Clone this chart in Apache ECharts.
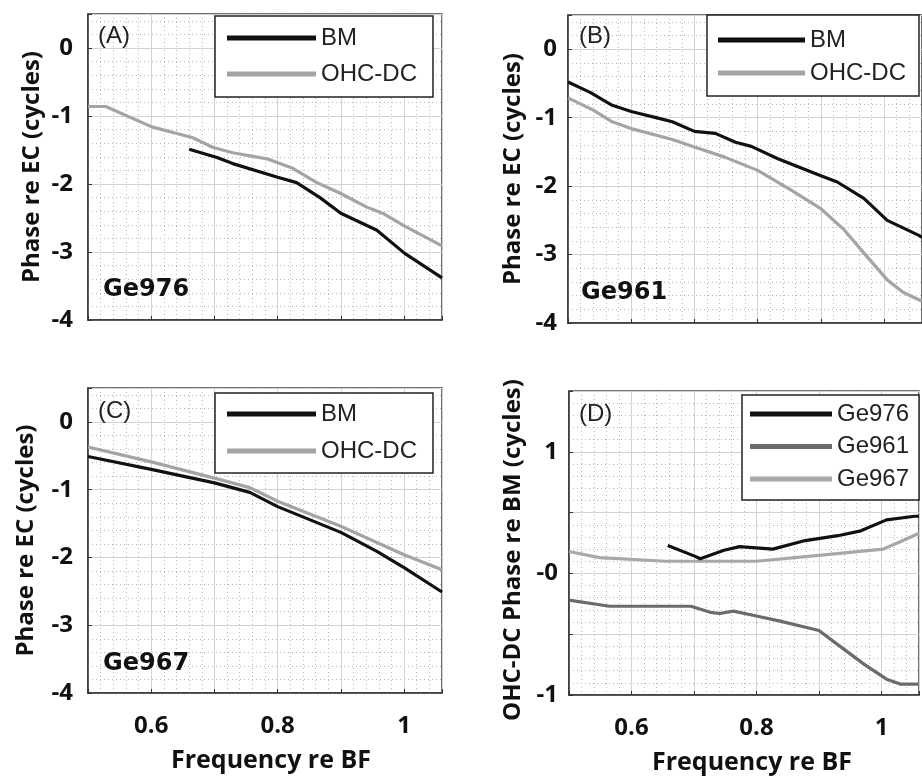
<!DOCTYPE html>
<html>
<head>
<meta charset="utf-8">
<script src="https://cdn.jsdelivr.net/npm/echarts@6/dist/echarts.min.js"></script>
<style>
html,body{margin:0;padding:0;background:#fff;}
#chart{width:922px;height:776px;}
</style>
</head>
<body>
<div id="chart"></div>
<script>
// ---------- data ----------
// Panel A (Ge976)
const aBmX  = [0.66, 0.704, 0.729, 0.80, 0.83, 0.867, 0.90, 0.957, 1.001, 1.06];
const aBmY  = [-1.49, -1.61, -1.70, -1.90, -1.98, -2.20, -2.43, -2.68, -3.02, -3.38];
const aOhcX = [0.50, 0.528, 0.601, 0.666, 0.697, 0.729, 0.783, 0.824, 0.862, 0.90, 0.941, 0.966, 1.001, 1.06];
const aOhcY = [-0.86, -0.86, -1.16, -1.32, -1.46, -1.54, -1.63, -1.77, -1.98, -2.14, -2.34, -2.43, -2.62, -2.91];
// Panel B (Ge961)
const bBmX  = [0.50, 0.535, 0.57, 0.60, 0.644, 0.665, 0.70, 0.733, 0.765, 0.79, 0.832, 0.90, 0.926, 0.968, 1.005, 1.055, 1.06];
const bBmY  = [-0.48, -0.63, -0.82, -0.91, -1.01, -1.06, -1.20, -1.23, -1.36, -1.42, -1.60, -1.85, -1.94, -2.18, -2.50, -2.72, -2.75];
const bOhcX = [0.50, 0.54, 0.57, 0.60, 0.665, 0.70, 0.749, 0.80, 0.853, 0.90, 0.937, 0.973, 1.005, 1.03, 1.055, 1.06];
const bOhcY = [-0.71, -0.89, -1.06, -1.16, -1.32, -1.43, -1.58, -1.77, -2.06, -2.33, -2.64, -3.03, -3.37, -3.55, -3.66, -3.68];
// Panel C (Ge967)
const cBmX  = [0.50, 0.60, 0.70, 0.756, 0.80, 0.90, 0.957, 1.0, 1.06];
const cBmY  = [-0.51, -0.70, -0.90, -1.04, -1.25, -1.63, -1.91, -2.15, -2.51];
const cOhcX = [0.50, 0.60, 0.70, 0.756, 0.80, 0.90, 1.0, 1.06];
const cOhcY = [-0.37, -0.59, -0.83, -0.97, -1.17, -1.54, -1.96, -2.18];
// Panel D (OHC-DC phase re BM)
const dGe976X = [0.658, 0.702, 0.71, 0.748, 0.773, 0.826, 0.878, 0.93, 0.967, 1.008, 1.053, 1.06];
const dGe976Y = [0.23, 0.14, 0.12, 0.19, 0.22, 0.20, 0.27, 0.31, 0.35, 0.44, 0.47, 0.47];
const dGe961X = [0.50, 0.565, 0.695, 0.726, 0.741, 0.763, 0.80, 0.836, 0.90, 0.931, 0.973, 1.008, 1.03, 1.06];
const dGe961Y = [-0.22, -0.27, -0.27, -0.32, -0.33, -0.31, -0.35, -0.39, -0.47, -0.59, -0.75, -0.87, -0.91, -0.91];
const dGe967X = [0.50, 0.549, 0.654, 0.80, 0.904, 1.003, 1.03, 1.06];
const dGe967Y = [0.18, 0.13, 0.10, 0.10, 0.15, 0.20, 0.26, 0.33];

const panelLetters = ['(A)', '(B)', '(C)', '(D)'];
const panelSubjects = ['Ge976', 'Ge961', 'Ge967'];
const xTickLabels = {6: '0.6', 8: '0.8', 10: '1'};

// ---------- helpers ----------
const zip = (xs, ys) => xs.map((x, i) => [x, ys[i]]);
const tickFont = 'Open Sans';
const textFont = 'Liberation Sans';

const grids = [
  {left: 88,  top: 14,  width: 354, height: 306},
  {left: 568, top: 15,  width: 357, height: 308},
  {left: 88,  top: 388, width: 354, height: 305},
  {left: 569, top: 391, width: 357, height: 309}
];

function xAxis(i, showLabels, namePad) {
  return {
    type: 'value', gridIndex: i, min: 0.5, max: 1.06, interval: 0.1,
    name: showLabels ? 'Frequency re BF' : '', nameLocation: 'middle', nameGap: 55,
    nameTextStyle: {fontFamily: tickFont, fontWeight: 'bold', fontSize: 25, color: '#111', padding: namePad || 0},
    axisLine: {show: true, onZero: false, lineStyle: {color: '#333', width: 1.5}},
    axisTick: {show: true, inside: true, length: 4, lineStyle: {color: '#333'}},
    axisLabel: {show: showLabels, margin: 21, fontFamily: tickFont, fontWeight: 'bold', fontSize: 24, color: '#111',
      showMinLabel: true, showMaxLabel: true,
      formatter: v => { const r = Math.round(v * 10); return (Math.abs(v * 10 - r) < 1e-6 && xTickLabels[r]) ? xTickLabels[r] : ''; }},
    splitLine: {show: true, lineStyle: {color: '#d2d2d2', width: 1}},
    minorTick: {show: false, splitNumber: 5},
    minorSplitLine: {show: true, lineStyle: {color: '#b8b8b8', width: 1, type: [1, 3]}}
  };
}

function yAxisPhase(i, margin, gap) {
  return {
    type: 'value', gridIndex: i, min: -4, max: 0.5, interval: 1,
    name: 'Phase re EC (cycles)', nameLocation: 'middle', nameGap: gap,
    nameTextStyle: {fontFamily: tickFont, fontWeight: 'bold', fontSize: 24, color: '#111'},
    axisLine: {show: true, onZero: false, lineStyle: {color: '#333', width: 1.5}},
    axisTick: {show: true, inside: true, length: 4, lineStyle: {color: '#333'}},
    axisLabel: {margin: margin, fontFamily: tickFont, fontWeight: 'bold', fontSize: 24, color: '#111',
      formatter: v => Number.isInteger(v) ? String(v) : ''},
    splitLine: {show: true, lineStyle: {color: '#d2d2d2', width: 1}},
    minorTick: {show: false, splitNumber: 5},
    minorSplitLine: {show: true, lineStyle: {color: '#b8b8b8', width: 1, type: [1, 3]}}
  };
}

function yAxisD(i) {
  return {
    type: 'value', gridIndex: i, min: -1, max: 1.5, interval: 0.5,
    name: 'OHC-DC Phase re BM (cycles)', nameLocation: 'middle', nameGap: 44,
    nameTextStyle: {fontFamily: tickFont, fontWeight: 'bold', fontSize: 24, color: '#111', padding: [0, 14, 0, 0]},
    axisLine: {show: true, onZero: false, lineStyle: {color: '#333', width: 1.5}},
    axisTick: {show: true, inside: true, length: 4, lineStyle: {color: '#333'}},
    axisLabel: {margin: 11, fontFamily: tickFont, fontWeight: 'bold', fontSize: 24, color: '#111',
      formatter: v => v === 1 ? '1' : (v === 0 ? '-0' : (v === -1 ? '-1' : ''))},
    splitLine: {show: true, lineStyle: {color: '#d2d2d2', width: 1}},
    minorTick: {show: false, splitNumber: 5},
    minorSplitLine: {show: true, lineStyle: {color: '#b8b8b8', width: 1, type: [1, 3]}}
  };
}

const BM_COLOR = '#111111';
const OHC_COLOR = '#a4a4a4';
function line(name, i, data, color, z) {
  return {
    type: 'line', name: name, xAxisIndex: i, yAxisIndex: i, data: data,
    showSymbol: false, symbol: 'none', smooth: false, z: z || 3,
    lineStyle: {color: color, width: 3.2}, itemStyle: {color: color}
  };
}

function legend(left, top, padding, itemWidth, itemGap, names) {
  return {
    orient: 'vertical', left: left, top: top, padding: padding,
    itemWidth: itemWidth, itemHeight: 5, itemGap: itemGap,
    backgroundColor: '#fff', borderColor: '#222', borderWidth: 1.5, borderRadius: 0,
    selectedMode: false, z: 10,
    textStyle: {fontFamily: textFont, fontSize: 24, lineHeight: 26, color: '#222'},
    data: names.map(n => ({name: n, icon: 'rect'}))
  };
}

const option = {
  animation: false,
  backgroundColor: '#fff',
  grid: grids.map(g => Object.assign({show: true, borderColor: '#444', borderWidth: 1.5, backgroundColor: 'transparent'}, g)),
  xAxis: [xAxis(0, false), xAxis(1, false), xAxis(2, true, [0, 0, 0, 12]), xAxis(3, true, [0, 0, 0, 16])],
  yAxis: [yAxisPhase(0, 15, 44), yAxisPhase(1, 11, 43), yAxisPhase(2, 15, 50), yAxisD(3)],
  legend: [
    legend(215, 16, [9, 16, 10, 12], 89, 10, ['BM', 'OHC-DC']),
    legend(707, 15, [12, 13, 10, 11], 87, 7, ['BM', 'OHC-DC']),
    legend(215, 393, [8, 16, 9, 12], 89, 11, ['BM', 'OHC-DC']),
    legend(742, 395, [6, 10, 8, 8], 82, 6.5, ['Ge976', 'Ge961', 'Ge967'])
  ],
  series: [
    line('OHC-DC', 0, zip(aOhcX, aOhcY), OHC_COLOR, 3),
    line('BM', 0, zip(aBmX, aBmY), BM_COLOR, 4),
    line('OHC-DC', 1, zip(bOhcX, bOhcY), OHC_COLOR, 3),
    line('BM', 1, zip(bBmX, bBmY), BM_COLOR, 4),
    line('OHC-DC', 2, zip(cOhcX, cOhcY), OHC_COLOR, 4),
    line('BM', 2, zip(cBmX, cBmY), BM_COLOR, 3),
    line('Ge967', 3, zip(dGe967X, dGe967Y), '#a8a8a8', 3),
    line('Ge961', 3, zip(dGe961X, dGe961Y), '#6b6b6b', 3),
    line('Ge976', 3, zip(dGe976X, dGe976Y), BM_COLOR, 4)
  ],
  graphic: [
    {type: 'text', left: 98,  top: 24,  z: 20, style: {text: panelLetters[0], font: '24px "Liberation Sans"', fill: '#222'}},
    {type: 'text', left: 579, top: 24,  z: 20, style: {text: panelLetters[1], font: '24px "Liberation Sans"', fill: '#222'}},
    {type: 'text', left: 98,  top: 399, z: 20, style: {text: panelLetters[2], font: '24px "Liberation Sans"', fill: '#222'}},
    {type: 'text', left: 579, top: 402, z: 20, style: {text: panelLetters[3], font: '24px "Liberation Sans"', fill: '#222'}},
    {type: 'text', left: 103, top: 278, z: 20, style: {text: panelSubjects[0], font: 'bold 24px "DejaVu Sans"', fill: '#111'}},
    {type: 'text', left: 581, top: 281, z: 20, style: {text: panelSubjects[1], font: 'bold 24px "DejaVu Sans"', fill: '#111'}},
    {type: 'text', left: 103, top: 652, z: 20, style: {text: panelSubjects[2], font: 'bold 24px "DejaVu Sans"', fill: '#111'}}
  ]
};

const chart = echarts.init(document.getElementById('chart'), null, {renderer: 'canvas'});
chart.setOption(option);
</script>
</body>
</html>
